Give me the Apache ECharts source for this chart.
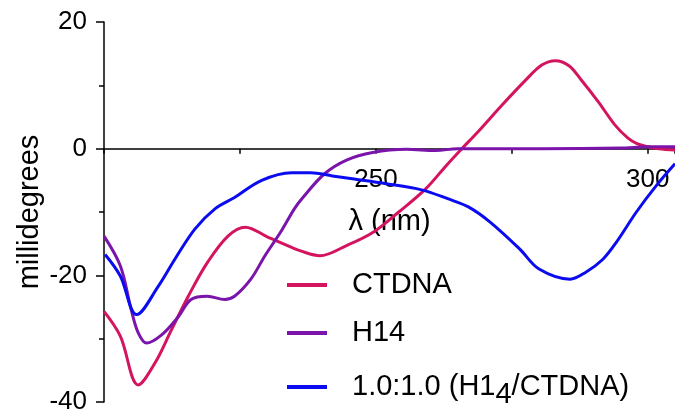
<!DOCTYPE html>
<html>
<head>
<meta charset="utf-8">
<script src="https://cdn.jsdelivr.net/npm/echarts@6/dist/echarts.min.js"></script>
<style>html,body{margin:0;padding:0;background:#fff;}#c{width:675px;height:417px;}</style>
</head>
<body>
<div id="c"></div>
<script>
// Series names
const seriesNames = ['CTDNA', 'H14', '1.0:1.0 (H14/CTDNA)'];
// CTDNA
const lamCT = [200, 203, 206.3, 209.4, 212.4, 215.5, 219, 222.8, 226, 230.2, 234.5, 236, 239.7, 244.6, 249.5, 254.2, 259.2, 263, 265.8, 268.7, 273, 277.4, 280.5, 283, 285.5, 287.8, 290.9, 293.9, 296.3, 298, 300, 302, 305];
const valCT = [-25.7, -29.6, -37.3, -33.8, -28.6, -23.3, -18, -13.8, -12.4, -14, -15.6, -16.1, -16.9, -15.3, -13.2, -10, -6.3, -2.6, 0, 2.6, 6.7, 10.7, 13.2, 13.9, 13.1, 10.8, 7.4, 3.8, 1.7, 0.8, 0.3, 0, -0.2];
// H14
const lamH = [200, 203, 205, 206.3, 207.8, 210.6, 213.7, 216, 219, 222.2, 224, 227, 229.6, 232.6, 235, 236.5, 240.5, 244.6, 249.4, 255.6, 261, 265, 280, 295, 300, 305];
const valH = [-13.8, -18.5, -25.4, -29.1, -30.7, -29.4, -26.5, -23.8, -23.3, -23.8, -23.3, -20.6, -16.9, -13, -9.5, -7.8, -4, -1.8, -0.6, -0.1, -0.3, 0, 0, 0.1, 0.3, 0.3];
// 1.0:1.0 (H1_4/CTDNA)
const lamB = [200.2, 203, 206, 210, 213, 216.7, 220.4, 224, 229, 234.5, 238, 242, 246, 251.6, 258.4, 263.2, 267, 271, 276.5, 280, 285.7, 288.6, 291.7, 294.2, 297.9, 301.6, 305];
const valB = [-16.7, -20.1, -26.2, -21.7, -17.5, -12.7, -9.5, -7.7, -5.0, -3.8, -3.8, -4.3, -4.8, -5.5, -6.5, -7.9, -9.2, -11.6, -15.9, -19, -20.6, -19.5, -17.5, -14.8, -10, -5.8, -2.4];
// Axis ticks
const xTickLabels = [250, 300];
const yTicks = [-40, -20, 0, 20];

const colors = ['#d4145f', '#7a14aa', '#0b0bf0'];
const FONT = 'Liberation Sans, Arial, sans-serif';

const pairs = (xs, ys) => xs.map((x, i) => [x, ys[i]]);

const GRID_TOP = 22, GRID_BOTTOM = 15, H = 417;
const plotH = H - GRID_TOP - GRID_BOTTOM;
const yMin = yTicks[0], yMax = yTicks[yTicks.length - 1];
const zeroOffset = plotH * (yMax - 0) / (yMax - yMin);

const chart = echarts.init(document.getElementById('c'), null, {renderer: 'canvas'});
const legendBase = {
  orient: 'vertical', left: 287, padding: 0, itemWidth: 40, itemHeight: 4, icon: 'rect',
  textStyle: {color: '#000', fontFamily: FONT, fontSize: 29,
    rich: {
      a: {fontFamily: FONT, fontSize: 29, lineHeight: 29, color: '#000', padding: [0, 0, 0, 20], verticalAlign: 'top'},
      b: {fontFamily: FONT, fontSize: 29, lineHeight: 29, color: '#000', verticalAlign: 'top'},
      s: {fontFamily: FONT, fontSize: 29, lineHeight: 29, color: '#000', padding: [8, 0, 0, 0], verticalAlign: 'top'}
    }
  },
  formatter: function (name) {
    if (name === seriesNames[2]) return '{a|1.0:1.0 (H1}{s|4}{b|/CTDNA)}';
    return '{a|' + name + '}';
  }
};
chart.setOption({
  animation: false,
  backgroundColor: '#fff',
  color: colors,
  grid: [
    {left: 104, right: 0, top: GRID_TOP, bottom: GRID_BOTTOM, containLabel: false, outerBoundsMode: 'none'},
    {left: 104, right: 0, top: GRID_TOP, height: zeroOffset, containLabel: false, outerBoundsMode: 'none'}
  ],
  legend: [
    Object.assign({}, legendBase, {top: 285 - 14.5, data: [seriesNames[0]]}),
    Object.assign({}, legendBase, {top: 333 - 14.5, data: [seriesNames[1]]}),
    Object.assign({}, legendBase, {top: 391 - 18.5, data: [seriesNames[2]]})
  ],
  xAxis: [{
    type: 'value', min: 200, max: 305, interval: 25, gridIndex: 0,
    axisLine: {onZero: true, lineStyle: {color: '#000', width: 1.5}},
    axisTick: {show: true, length: 5, lineStyle: {color: '#000', width: 1.5}},
    axisLabel: {show: false},
    splitLine: {show: false}
  }, {
    type: 'value', min: 200, max: 305, interval: 25, gridIndex: 1, position: 'bottom',
    name: 'λ (nm)', nameLocation: 'middle', nameGap: 59, nameMoveOverlap: false,
    nameTextStyle: {fontFamily: FONT, fontSize: 29, color: '#000'},
    axisLine: {show: false},
    axisTick: {show: false},
    axisLabel: {margin: 18, fontFamily: FONT, fontSize: 26, color: '#000',
      formatter: v => xTickLabels.indexOf(v) >= 0 ? String(v) : ''},
    splitLine: {show: false}
  }],
  yAxis: [{
    type: 'value', min: yMin, max: yMax, interval: 20, gridIndex: 0,
    name: 'millidegrees', nameLocation: 'middle', nameGap: 60, nameMoveOverlap: false,
    nameTextStyle: {fontFamily: FONT, fontSize: 29, color: '#000'},
    axisLine: {show: true, lineStyle: {color: '#000', width: 1.5}},
    axisTick: {show: true, length: 8, lineStyle: {color: '#000', width: 1.5}},
    minorTick: {show: true, splitNumber: 2, length: 5, lineStyle: {color: '#000', width: 1.5}},
    axisLabel: {margin: 17, fontFamily: FONT, fontSize: 26, color: '#000'},
    splitLine: {show: false}
  }, {
    type: 'value', min: 0, max: 1, gridIndex: 1, show: false
  }],
  series: [
    {name: seriesNames[0], type: 'line', data: pairs(lamCT, valCT), smooth: 0.35, symbol: 'none', lineStyle: {width: 3, color: colors[0]}, itemStyle: {color: colors[0]}},
    {name: seriesNames[1], type: 'line', data: pairs(lamH, valH), smooth: 0.35, symbol: 'none', lineStyle: {width: 3, color: colors[1]}, itemStyle: {color: colors[1]}},
    {name: seriesNames[2], type: 'line', data: pairs(lamB, valB), smooth: 0.35, symbol: 'none', lineStyle: {width: 3, color: colors[2]}, itemStyle: {color: colors[2]}}
  ]
});
</script>
</body>
</html>
